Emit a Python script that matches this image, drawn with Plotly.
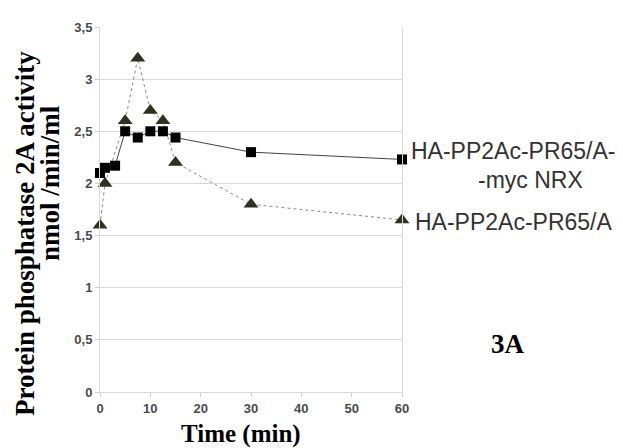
import plotly.graph_objects as go

# Data
time_nrx = [0, 1, 3, 5, 7.5, 10, 12.5, 15, 30, 60]
act_nrx = [2.1, 2.15, 2.17, 2.5, 2.44, 2.5, 2.5, 2.44, 2.3, 2.23]
time_ctrl = [0, 1, 5, 7.5, 10, 12.5, 15, 30, 60]
act_ctrl = [1.6, 2.0, 2.6, 3.2, 2.7, 2.6, 2.2, 1.8, 1.65]
y_ticks = [0, 0.5, 1, 1.5, 2, 2.5, 3, 3.5]
x_ticks = [0, 10, 20, 30, 40, 50, 60]
label_nrx_1 = "HA-PP2Ac-PR65/A-"
label_nrx_2 = "-myc NRX"
label_ctrl = "HA-PP2Ac-PR65/A"

OFF = 8  # default body margin of the page
W, H = 623 - OFF, 448 - OFF
L, R, T, B = 100, 402, 20, 392  # target page pixels

def px(x):
    return (x - L) / (R - L)

def py(y):
    return (B - y) / (B - T)

fig = go.Figure()
fig.add_trace(go.Scatter(
    x=time_ctrl, y=act_ctrl, mode="lines+markers",
    line=dict(color="#8a8a8a", width=1, dash="dot"),
    marker=dict(symbol="triangle-up", size=13, color="#2f3020"),
    cliponaxis=False, showlegend=False))
fig.add_trace(go.Scatter(
    x=time_nrx, y=act_nrx, mode="lines+markers",
    line=dict(color="#444444", width=1),
    marker=dict(symbol="square", size=10, color="#000000"),
    cliponaxis=False, showlegend=False))

tickfont = dict(family="Liberation Sans", size=13, color="#4a4a4a", weight="bold")
fig.update_xaxes(range=[0, 60], tickvals=x_ticks, showgrid=False, zeroline=False,
                 ticks="outside", ticklen=4, tickcolor="#cccccc",
                 showline=True, linecolor="#d9d9d9", tickfont=tickfont)
fig.update_yaxes(range=[0, 3.5], tickvals=y_ticks, showgrid=True, gridcolor="#d9d9d9",
                 zeroline=False, showline=True, linecolor="#d9d9d9", mirror=True,
                 ticks="outside", ticklen=4, tickcolor="#cccccc", tickfont=tickfont)

serif = "Liberation Serif"
ann = [
    dict(text="<b>Protein phosphatase 2A activity</b>", x=px(25), y=py(231), textangle=-90,
         font=dict(family=serif, size=27, color="black")),
    dict(text="<b>nmol /min/ml</b>", x=px(50), y=py(179), textangle=-90,
         font=dict(family=serif, size=27, color="black")),
    dict(text="<b>Time (min)</b>", x=px(241), y=py(435),
         font=dict(family=serif, size=25, color="black")),
    dict(text="<b>3A</b>", x=px(508), y=py(343),
         font=dict(family=serif, size=27, color="black")),
    dict(text=label_nrx_1, x=px(409), y=py(146), xanchor="left",
         font=dict(family="Liberation Sans", size=23, color="#333333")),
    dict(text=label_nrx_2, x=px(530), y=py(176),
         font=dict(family="Liberation Sans", size=23, color="#333333")),
    dict(text=label_ctrl, x=px(413), y=py(219), xanchor="left",
         font=dict(family="Liberation Sans", size=23, color="#333333")),
]
for a in ann:
    a.update(xref="paper", yref="paper", showarrow=False)
    a.setdefault("xanchor", "center")
    a.setdefault("yanchor", "middle")
fig.update_layout(annotations=ann)

fig.update_layout(width=W, height=H,
                  margin=dict(l=L - OFF, r=623 - R, t=T - OFF, b=448 - B),
                  plot_bgcolor="white", paper_bgcolor="white", separators=", ")
fig.write_html("out.html")
